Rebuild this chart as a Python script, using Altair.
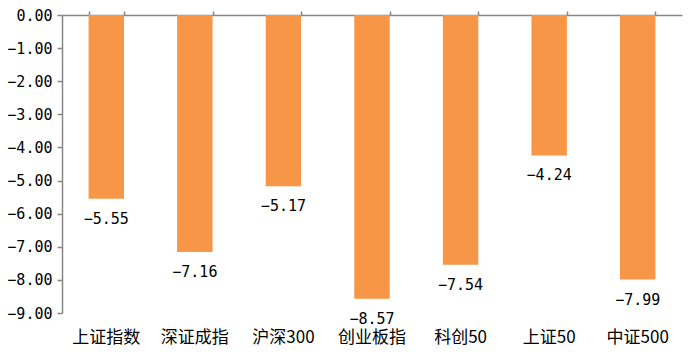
import altair as alt
import pandas as pd

categories = ["上证指数", "深证成指", "沪深300", "创业板指", "科创50", "上证50", "中证500"]
values = [-5.55, -7.16, -5.17, -8.57, -7.54, -4.24, -7.99]
y_ticks = [0, -1, -2, -3, -4, -5, -6, -7, -8, -9]

df = pd.DataFrame({"cat": categories, "value": values})

xscale = alt.Scale(domain=categories, paddingInner=0.6, paddingOuter=0.3)
yscale = alt.Scale(domain=[-9, 0], nice=False, zero=True)

axis_color = "#868686"

y_axis = alt.Axis(values=y_ticks, format=".2f", grid=False,
                  domainColor=axis_color, tickColor=axis_color,
                  domainWidth=1.5, tickWidth=1.5, tickSize=5, labelPadding=5,
                  labelFont="DejaVu Sans Mono", labelFontSize=15,
                  labelColor="#000000")

bars = alt.Chart(df).mark_bar(color="#F79646").encode(
    x=alt.X("cat:N", scale=xscale, sort=categories, title=None,
            axis=alt.Axis(orient="top", labels=False, tickBand="extent",
                          domainColor=axis_color, tickColor=axis_color,
                          domainWidth=1.5, tickWidth=1.5, tickSize=4, grid=False)),
    y=alt.Y("value:Q", scale=yscale, title=None, axis=y_axis),
)

labels = alt.Chart(df).transform_calculate(
    lbl="format(datum.value, '.2f')"
).mark_text(font="DejaVu Sans Mono", fontSize=15, color="#000000",
            baseline="middle", dy=20).encode(
    x=alt.X("cat:N", scale=xscale, sort=categories, title=None,
            axis=alt.Axis(orient="bottom", domain=False, ticks=False, tickSize=0,
                          labelPadding=16, labelAngle=0,
                          labelFont="Noto Sans CJK SC", labelFontSize=17,
                          labelColor="#000000", grid=False)),
    y=alt.Y("value:Q", scale=yscale, title=None, axis=y_axis),
    text="lbl:N",
)

chart = alt.layer(bars, labels).resolve_axis(x="independent").properties(
    width=620, height=298,
    autosize=alt.AutoSizeParams(type="none"),
    padding={"left": 54, "top": 7, "right": 3, "bottom": 40},
).configure_view(stroke=None)

chart.save("out.html", embed_options={"renderer": "svg", "actions": False})
